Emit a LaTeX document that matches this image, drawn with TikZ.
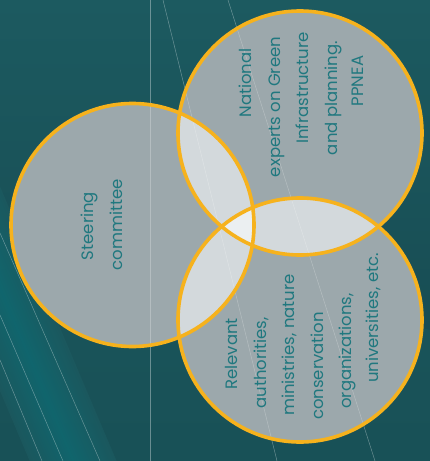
\documentclass[tikz,border=0pt]{standalone}
\usepackage{fontspec}
\setmainfont{Poppins}
\definecolor{bgA}{HTML}{1C5A60}
\definecolor{bgB}{HTML}{16484F}
\definecolor{bgC}{HTML}{1B5A5F}
\definecolor{streak}{HTML}{0E6C74}
\definecolor{onefill}{HTML}{9CA8AC}
\definecolor{twofill}{HTML}{D3D9DC}
\definecolor{threefill}{HTML}{EBEFF1}
\definecolor{ring}{HTML}{F6B21D}
\definecolor{txt}{HTML}{20787F}
\tikzset{
  ringline/.style={draw=ring, line width=3.6pt},
  label/.style={rotate=90, anchor=base, text=txt, inner sep=0pt, font=\fontsize{16.5}{20}\selectfont},
  faint/.style={draw=white, line width=0.5pt, opacity=0.35},
}
\begin{document}
\begin{tikzpicture}[x=1pt, y=-1pt]
\useasboundingbox (0,0) rectangle (430,461);
% background
\shade[left color=bgA, right color=bgB, shading angle=0] (0,0) rectangle (430,461);
\fill[bgC, opacity=0.5] (0,230) -- (430,330) -- (430,461) -- (0,461) -- cycle;
\begin{scope}
  \clip (0,0) rectangle (430,461);
  \shade[transform canvas={shift={(60pt,-430pt)}, rotate=23}, left color=bgA, right color=bgA, middle color=streak, opacity=0.75]
    (-40,-320) rectangle (40,260);
\end{scope}
% background lines
\draw[faint] (150,0) -- (150,461);
\draw[faint] (0,233) -- (100,461);
\draw[faint] (0,315) -- (63,461);
\draw[faint] (0,360) -- (42,461);
\draw[faint] (163,0) -- (277,461);
\draw[faint] (228,0) -- (375,461);
% circles: single fill
\fill[onefill] (132.5,225) circle[radius=121.5pt];
\fill[onefill] (300,133) circle[radius=122pt];
\fill[onefill] (300,320) circle[radius=122pt];
% pairwise overlaps
\begin{scope}
  \clip (132.5,225) circle[radius=121.5pt];
  \fill[twofill] (300,133) circle[radius=122pt];
  \fill[twofill] (300,320) circle[radius=122pt];
\end{scope}
\begin{scope}
  \clip (300,133) circle[radius=122pt];
  \fill[twofill] (300,320) circle[radius=122pt];
\end{scope}
% triple overlap
\begin{scope}
  \clip (132.5,225) circle[radius=121.5pt];
  \clip (300,133) circle[radius=122pt];
  \fill[threefill] (300,320) circle[radius=122pt];
\end{scope}
% faint lines through fills
\begin{scope}
  \clip (132.5,225) circle[radius=121.5pt] (300,133) circle[radius=122pt] (300,320) circle[radius=122pt];
  \draw[faint, opacity=0.25] (150,0) -- (150,461);
  \draw[faint, opacity=0.25] (163,0) -- (277,461);
  \draw[faint, opacity=0.25] (228,0) -- (375,461);
\end{scope}
% rings
\draw[ringline] (132.5,225) circle[radius=121.5pt];
\draw[ringline] (300,133) circle[radius=122pt];
\draw[ringline] (300,320) circle[radius=122pt];
% texts
\node[label] (s1) at (93,226) {Steering};
\node[label] (s2) at (122,225) {committee};
\node[label] (n1) at (251,83) {National};
\node[label] (n2) at (280,107) {experts on Green};
\node[label] (n3) at (308,88) {Infrastructure};
\node[label] (n4) at (337,98) {and planning.};
\node[label] (n5) at (363,81) {PPNEA};
\node[label] (r1) at (237,354) {Relevant};
\node[label] (r2) at (266,363) {authorities,};
\node[label] (r3) at (294,345) {ministries, nature};
\node[label] (r4) at (323,366) {conservation};
\node[label] (r5) at (351,351) {organizations,};
\node[label] (r6) at (378,318) {universities, etc.};
\end{tikzpicture}
\end{document}
